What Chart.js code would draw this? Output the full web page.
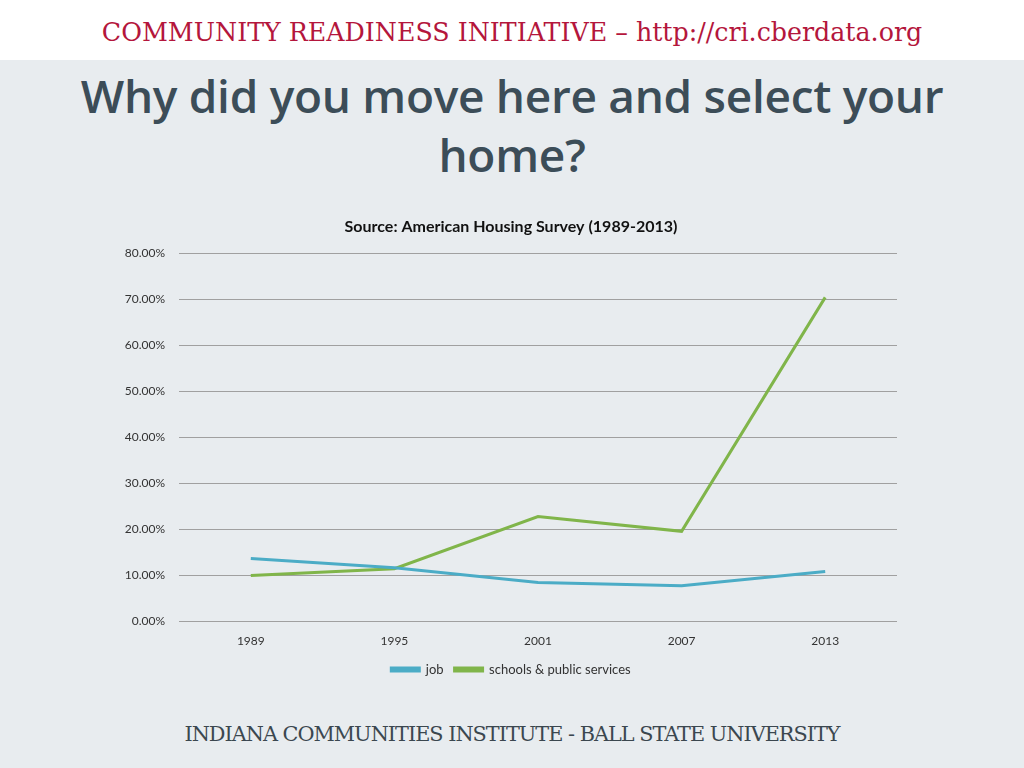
<!DOCTYPE html>
<html>
<head>
<meta charset="utf-8">
<script src="https://cdn.jsdelivr.net/npm/chart.js@4.4.1/dist/chart.umd.min.js"></script>
<style>
  html, body { margin: 0; padding: 0; }
  body { width: 1024px; height: 768px; background: #e8ecef; position: relative; overflow: hidden; font-family: Lato, sans-serif; }
  #topBar { position: absolute; left: 0; top: 0; width: 1024px; height: 60px; background: #ffffff; }
  #topBar div { text-align: center; font-family: "DejaVu Serif", serif; font-size: 25.3px; color: #b4163c; line-height: 66px; }
  #title { position: absolute; left: 0; top: 66px; width: 1024px; text-align: center; font-family: "Open Sans", sans-serif; font-weight: 600; font-size: 46px; line-height: 59px; color: #3c4d58; letter-spacing: -0.3px; }
  #chartBox { position: absolute; left: 125px; top: 208px; width: 786px; height: 478px; }
  #footer { position: absolute; left: 0; top: 722px; width: 1024px; text-align: center; font-family: "DejaVu Serif", serif; font-size: 20.8px; color: #3b474f; letter-spacing: -1px; }
</style>
</head>
<body>
<div id="topBar"><div>COMMUNITY READINESS INITIATIVE – http://cri.cberdata.org</div></div>
<div id="title">Why did you move here and select your<br>home?</div>
<div id="chartBox"><canvas id="moveChart"></canvas></div>
<div id="footer">INDIANA COMMUNITIES INSTITUTE - BALL STATE UNIVERSITY</div>

<script>
const years = ['1989', '1995', '2001', '2007', '2013'];
const jobValues = [13.7, 11.7, 8.5, 7.8, 10.9];
const schoolValues = [10.0, 11.5, 22.8, 19.6, 70.4];
const yTicks = [0, 10, 20, 30, 40, 50, 60, 70, 80];

document.addEventListener("DOMContentLoaded", function() {
    const ctx = document.getElementById('moveChart');
    new Chart(ctx, {
        type: 'line',
        data: {
            labels: years,
            datasets: [
                {
                    label: 'job',
                    data: jobValues,
                    borderColor: '#4bacc6',
                    backgroundColor: '#4bacc6',
                    borderWidth: 3,
                    pointRadius: 0,
                    tension: 0
                },
                {
                    label: 'schools & public services',
                    data: schoolValues,
                    borderColor: '#80b54a',
                    backgroundColor: '#80b54a',
                    borderWidth: 3,
                    pointRadius: 0,
                    tension: 0
                }
            ]
        },
        options: {
            responsive: true,
            maintainAspectRatio: false,
            animation: false,
            layout: { padding: { left: 0, right: 14, top: 0, bottom: 0 } },
            scales: {
                x: {
                    offset: true,
                    grid: { display: false },
                    border: { display: false },
                    ticks: { color: '#333', font: { family: 'Lato', size: 12 }, padding: 4 }
                },
                y: {
                    min: 0,
                    max: 80,
                    afterBuildTicks: axis => { axis.ticks = yTicks.map(v => ({ value: v })); },
                    afterFit: axis => { axis.width = 54; },
                    grid: { color: '#a0a0a0', lineWidth: 1, drawTicks: false },
                    border: { display: false },
                    ticks: {
                        color: '#333',
                        font: { family: 'Lato', size: 12 },
                        padding: 14,
                        callback: v => v.toFixed(2) + '%'
                    }
                }
            },
            plugins: {
                title: {
                    display: true,
                    text: 'Source: American Housing Survey (1989-2013)',
                    color: '#111',
                    font: { family: 'Lato', size: 16, weight: 'bold' },
                    padding: { top: 9, bottom: 17 }
                },
                legend: {
                    position: 'bottom',
                    labels: {
                        color: '#333',
                        font: { family: 'Lato', size: 13 },
                        boxWidth: 28,
                        boxHeight: 3,
                        padding: 11
                    }
                },
                tooltip: { enabled: false }
            }
        }
    });
});
</script>
</body>
</html>
